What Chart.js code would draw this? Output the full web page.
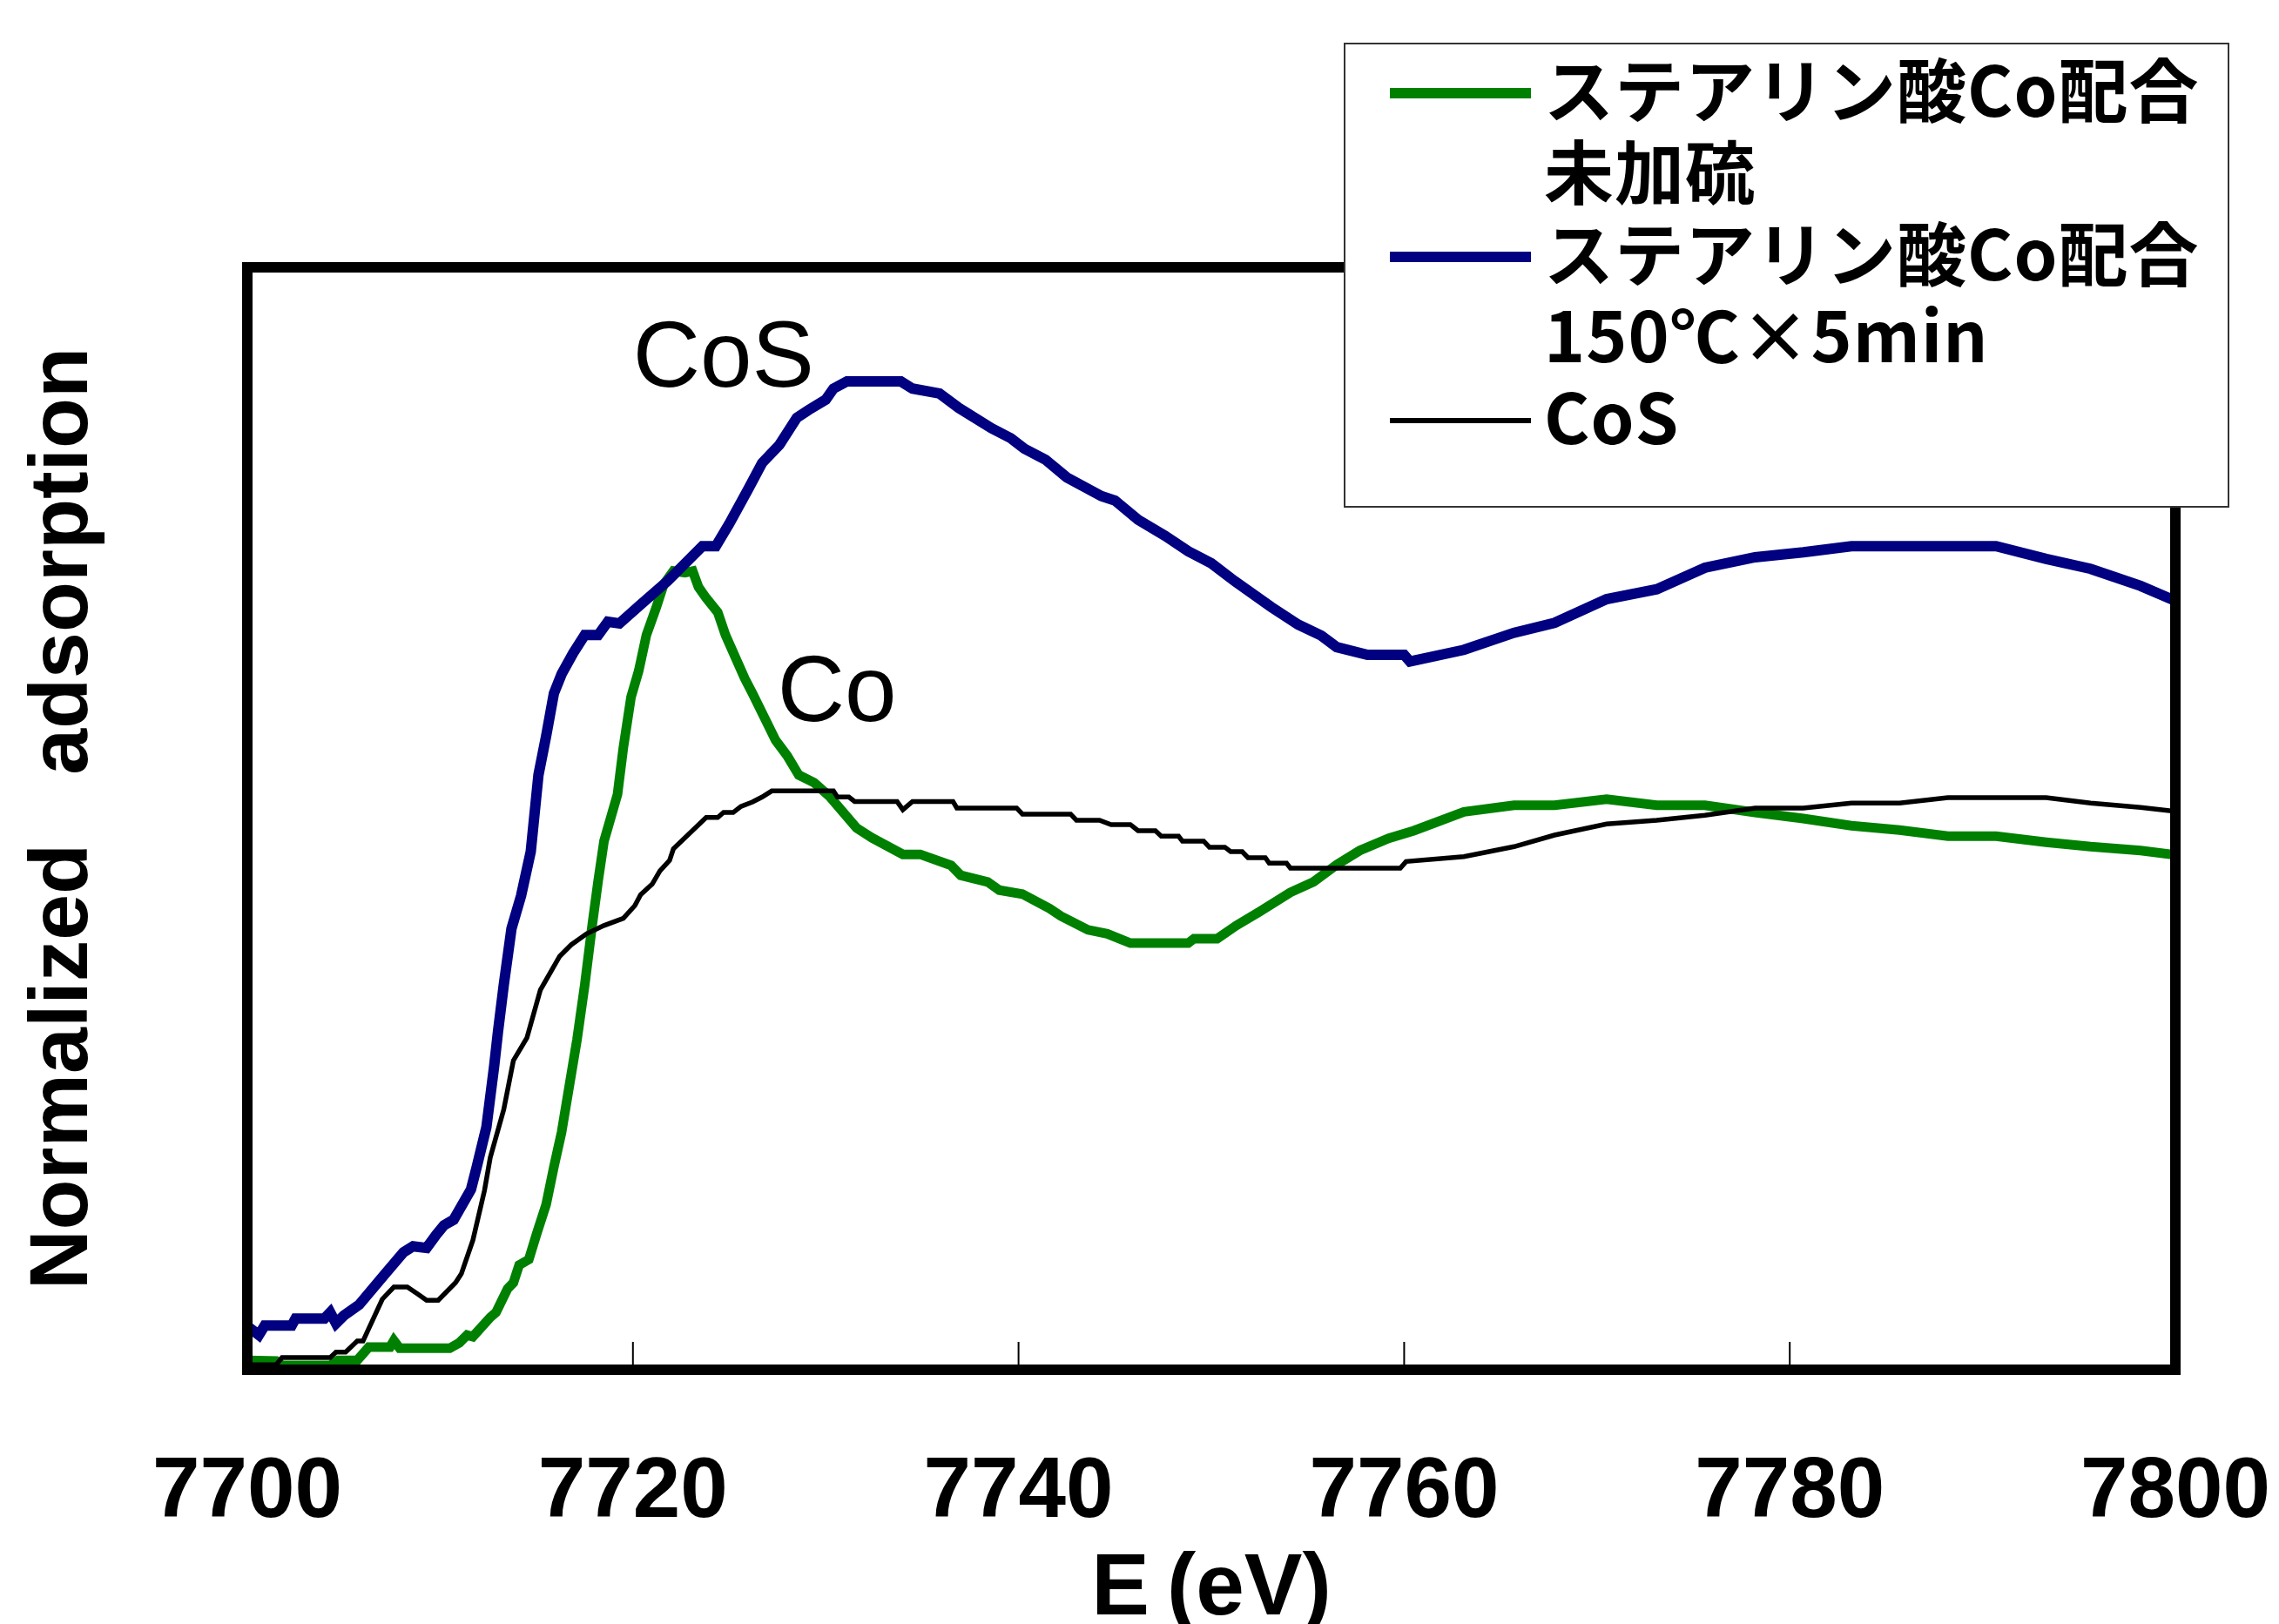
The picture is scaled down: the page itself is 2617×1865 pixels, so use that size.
<!DOCTYPE html>
<html lang="ja">
<head>
<meta charset="UTF-8">
<title>Co K-edge XANES</title>
<style>
html, body { margin: 0; padding: 0; background: #fff; }
canvas { display: block; }
</style>
</head>
<body>
<canvas id="xanes" width="2617" height="1865"></canvas>
<script src="https://cdn.jsdelivr.net/npm/chart.js@4.4.1/dist/chart.umd.min.js"></script>
<script>
// energy (eV) / normalized absorption
const greenE = [7700.0, 7701.5, 7701.8, 7704.3, 7704.7, 7705.7, 7706.3, 7707.4, 7707.6, 7707.9, 7710.5, 7711.0, 7711.4, 7711.7,
  7712.6, 7712.9, 7713.5, 7713.8, 7714.1, 7714.6, 7715.0, 7715.5, 7715.9, 7716.3, 7716.7, 7717.1, 7717.5, 7717.9, 7718.2, 7718.5,
  7719.2, 7719.5, 7719.9, 7720.3, 7720.7, 7721.2, 7721.6, 7722.1, 7722.7, 7723.1, 7723.4, 7723.8, 7724.4, 7724.8, 7725.8, 7726.2,
  7727.4, 7728.0, 7728.6, 7729.4, 7730.2, 7731.6, 7732.4, 7734.0, 7734.9, 7736.5, 7737.0, 7738.4, 7739.0, 7740.2, 7741.6, 7742.2,
  7743.6, 7744.6, 7745.8, 7748.8, 7749.1, 7750.3, 7751.3, 7752.5, 7754.1, 7755.3, 7756.5, 7757.7, 7759.2, 7760.5, 7763.1, 7765.7,
  7767.8, 7770.5, 7773.1, 7775.6, 7778.2, 7780.7, 7783.2, 7785.7, 7788.2, 7790.7, 7793.3, 7795.6, 7798.2, 7800.0];
const greenV = [0.017, 0.016, 0.008, 0.008, 0.017, 0.017, 0.041, 0.041, 0.053, 0.039, 0.039, 0.049, 0.063, 0.060,
  0.095, 0.104, 0.147, 0.158, 0.190, 0.200, 0.246, 0.300, 0.368, 0.431, 0.515, 0.599, 0.698, 0.810, 0.888, 0.959,
  1.044, 1.128, 1.220, 1.268, 1.333, 1.382, 1.425, 1.449, 1.446, 1.449, 1.420, 1.400, 1.374, 1.333, 1.254, 1.227,
  1.142, 1.114, 1.079, 1.065, 1.040, 0.983, 0.965, 0.935, 0.935, 0.915, 0.897, 0.885, 0.870, 0.863, 0.837, 0.823,
  0.798, 0.791, 0.774, 0.774, 0.782, 0.782, 0.806, 0.831, 0.866, 0.885, 0.916, 0.942, 0.964, 0.978, 1.012, 1.024,
  1.024, 1.035, 1.024, 1.024, 1.011, 1.000, 0.987, 0.979, 0.968, 0.968, 0.957, 0.949, 0.942, 0.934];

const blueE = [7700.0, 7700.6, 7700.9, 7702.3, 7702.5, 7704.0, 7704.3, 7704.6, 7705.0, 7705.8, 7707.1, 7708.1, 7708.6, 7709.3,
  7709.8, 7710.2, 7710.7, 7711.6, 7711.9, 7712.4, 7712.8, 7713.0, 7713.3, 7713.7, 7714.2, 7714.7, 7715.1, 7715.5, 7715.9, 7716.3,
  7716.9, 7717.5, 7718.2, 7718.7, 7719.3, 7720.3, 7721.8, 7723.6, 7724.3, 7725.0, 7726.0, 7726.7, 7727.6, 7728.5, 7729.1, 7730.0,
  7730.4, 7731.1, 7733.9, 7734.5, 7735.9, 7736.9, 7738.6, 7739.6, 7740.3, 7741.4, 7742.5, 7744.3, 7745.0, 7746.2, 7747.6, 7748.8,
  7750.0, 7751.2, 7753.1, 7754.5, 7755.7, 7756.5, 7758.1, 7760.0, 7760.3, 7763.1, 7765.7, 7767.8, 7770.5, 7773.1, 7775.6, 7778.2,
  7780.7, 7783.2, 7790.7, 7793.3, 7795.6, 7798.2, 7800.0];
const blueV = [0.079, 0.063, 0.080, 0.080, 0.093, 0.093, 0.104, 0.084, 0.098, 0.118, 0.172, 0.213, 0.224, 0.221,
  0.245, 0.262, 0.272, 0.327, 0.368, 0.440, 0.550, 0.613, 0.698, 0.800, 0.860, 0.940, 1.079, 1.150, 1.227, 1.262,
  1.300, 1.333, 1.333, 1.357, 1.354, 1.385, 1.431, 1.494, 1.494, 1.535, 1.599, 1.645, 1.678, 1.727, 1.741, 1.760,
  1.780, 1.793, 1.793, 1.780, 1.771, 1.745, 1.708, 1.690, 1.671, 1.651, 1.619, 1.585, 1.577, 1.542, 1.513, 1.485,
  1.463, 1.431, 1.384, 1.352, 1.332, 1.311, 1.297, 1.297, 1.285, 1.306, 1.337, 1.355, 1.398, 1.416, 1.455, 1.474,
  1.483, 1.494, 1.494, 1.471, 1.453, 1.422, 1.395];

const cosE = [7700.0, 7701.5, 7701.8, 7704.3, 7704.6, 7705.1, 7705.7, 7706.0, 7707.0, 7707.6, 7708.3, 7708.9, 7709.3, 7709.9,
  7710.8, 7711.1, 7711.7, 7712.3, 7712.6, 7713.3, 7713.8, 7714.5, 7715.2, 7716.2, 7716.8, 7717.6, 7718.5, 7719.5, 7720.1, 7720.4,
  7721.0, 7721.4, 7721.9, 7722.1, 7723.8, 7724.4, 7724.7, 7725.2, 7725.6, 7726.2, 7726.7, 7727.2, 7730.4, 7730.6, 7731.2, 7731.5,
  7733.7, 7734.0, 7734.5, 7736.6, 7736.8, 7739.9, 7740.2, 7742.7, 7743.0, 7744.2, 7744.8, 7745.8, 7746.2, 7747.1, 7747.4, 7748.3,
  7748.5, 7749.6, 7749.9, 7750.7, 7751.0, 7751.6, 7751.9, 7752.8, 7753.0, 7753.9, 7754.1, 7759.8, 7760.1, 7763.1, 7765.7, 7767.8,
  7770.5, 7773.1, 7775.6, 7778.2, 7780.7, 7783.2, 7785.7, 7788.2, 7793.3, 7795.6, 7798.2, 7800.0];
const cosV = [0.009, 0.009, 0.022, 0.022, 0.032, 0.032, 0.052, 0.052, 0.128, 0.150, 0.150, 0.136, 0.126, 0.126,
  0.158, 0.174, 0.235, 0.325, 0.385, 0.472, 0.561, 0.602, 0.689, 0.750, 0.771, 0.791, 0.806, 0.819, 0.842, 0.862,
  0.881, 0.905, 0.924, 0.945, 1.002, 1.002, 1.011, 1.011, 1.022, 1.030, 1.039, 1.050, 1.050, 1.039, 1.039, 1.031,
  1.031, 1.016, 1.031, 1.031, 1.019, 1.019, 1.008, 1.008, 0.997, 0.997, 0.989, 0.989, 0.978, 0.978, 0.968, 0.968,
  0.959, 0.959, 0.948, 0.948, 0.940, 0.940, 0.929, 0.929, 0.919, 0.919, 0.910, 0.910, 0.922, 0.931, 0.949, 0.970,
  0.990, 0.997, 1.006, 1.019, 1.019, 1.028, 1.028, 1.038, 1.038, 1.028, 1.020, 1.013];

const xTickValues = [7700, 7720, 7740, 7760, 7780, 7800];
const legendLines = [['ステアリン酸Co配合', '未加硫'], ['ステアリン酸Co配合', '150℃×5min'], ['CoS']];
const annoText = ['CoS', 'Co'];
const annoX = [7720.0, 7727.5];
const annoY = [1.784, 1.177];

const colors = ['#008000', '#000080', '#000000'];
const widths = [11, 12, 5.5];

const pts = (xs, ys) => xs.map((v, i) => ({x: v, y: ys[i]}));

const frame = {
  id: 'frame',
  afterDatasetsDraw(chart) {
    const {ctx, chartArea: a, scales: {x, y}} = chart;
    ctx.save();
    ctx.strokeStyle = '#000';
    ctx.lineWidth = 2;
    x.ticks.forEach(t => {
      const px = x.getPixelForValue(t.value);
      ctx.beginPath();
      ctx.moveTo(px, a.bottom);
      ctx.lineTo(px, a.bottom - 32);
      ctx.stroke();
    });
    ctx.lineWidth = 12;
    ctx.strokeRect(a.left, a.top, a.right - a.left, a.bottom - a.top);

    ctx.fillStyle = '#000';
    ctx.font = '107px "Liberation Sans", Arial, sans-serif';
    ctx.textAlign = 'left';
    ctx.textBaseline = 'alphabetic';
    annoText.forEach((s, i) => ctx.fillText(s, x.getPixelForValue(annoX[i]), y.getPixelForValue(annoY[i])));

    // legend box
    ctx.fillStyle = '#fff';
    ctx.fillRect(1544, 50, 1015, 532);
    ctx.strokeStyle = '#333';
    ctx.lineWidth = 2;
    ctx.strokeRect(1544, 50, 1015, 532);
    ctx.font = 'bold 80px "Noto Sans CJK JP", sans-serif';
    ctx.letterSpacing = '1px';
    let line = 0;
    legendLines.forEach((lines, k) => {
      const base = 134 + 94 * line;
      ctx.strokeStyle = colors[k];
      ctx.lineWidth = k === 2 ? 6 : 12;
      ctx.beginPath();
      ctx.moveTo(1596, base - 27);
      ctx.lineTo(1758, base - 27);
      ctx.stroke();
      ctx.fillStyle = '#000';
      lines.forEach(s => {
        ctx.fillText(s, 1773, 134 + 94 * line);
        line++;
      });
    });
    ctx.restore();
  }
};

new Chart(document.getElementById('xanes'), {
  type: 'line',
  data: {
    datasets: [
      {label: legendLines[0].join(' '), data: pts(greenE, greenV), borderColor: colors[0], borderWidth: widths[0], order: 3},
      {label: legendLines[1].join(' '), data: pts(blueE, blueV), borderColor: colors[1], borderWidth: widths[1], order: 2},
      {label: legendLines[2].join(' '), data: pts(cosE, cosV), borderColor: colors[2], borderWidth: widths[2], order: 1}
    ]
  },
  options: {
    responsive: false,
    animation: false,
    layout: {padding: {top: 307, right: 119, left: 0, bottom: 0}},
    elements: {point: {radius: 0}, line: {tension: 0, fill: false}},
    plugins: {legend: {display: false}, tooltip: {enabled: false}},
    scales: {
      x: {
        type: 'linear', min: 7700, max: 7800,
        afterBuildTicks: s => { s.ticks = xTickValues.map(v => ({value: v})); },
        afterFit: s => { s.height = 292; s.paddingLeft = 0; s.paddingRight = 0; },
        grid: {display: false, drawTicks: false},
        border: {display: false},
        ticks: {padding: 83, color: '#000', font: {family: '"Liberation Sans", Arial, sans-serif', size: 98, weight: 'bold'},
          callback: v => String(v), maxRotation: 0, autoSkip: false},
        title: {display: true, text: 'E\u2009(eV)', color: '#000', padding: {top: 0, bottom: -21},
          font: {family: '"Liberation Sans", Arial, sans-serif', size: 100, weight: 'bold'}}
      },
      y: {
        min: 0, max: 2,
        afterFit: s => { s.width = 284; },
        grid: {display: false, drawTicks: false},
        border: {display: false},
        ticks: {display: false},
        title: {display: true, text: 'Normalized   adsorption', color: '#000', padding: {top: 17, bottom: 0},
          font: {family: '"Liberation Sans", Arial, sans-serif', size: 95, weight: 'bold'}}
      }
    }
  },
  plugins: [frame]
});
</script>
</body>
</html>
